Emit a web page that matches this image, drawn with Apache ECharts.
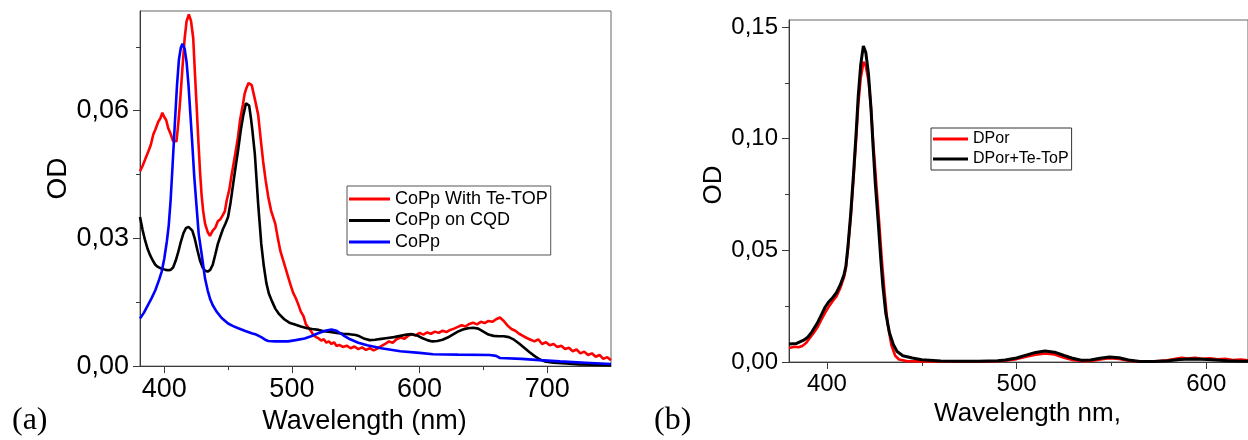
<!DOCTYPE html>
<html><head><meta charset="utf-8">
<script src="https://cdn.jsdelivr.net/npm/echarts@6/dist/echarts.min.js"></script>
<style>html,body{margin:0;padding:0;background:#fff}#c{width:1248px;height:440px}</style>
</head><body><div id="c"></div>
<script>
// ---------- Panel (a) data: [wavelength nm, OD] ----------
const copTeTop = [[381,0.0458],[383,0.047],[385,0.0485],[387.5,0.0504],[389.5,0.052],[391.4,0.0544],[393,0.0555],[395.3,0.0574],[397,0.0582],[398.5,0.0595],[400,0.0585],[401.5,0.0578],[403,0.056],[405,0.0545],[407,0.0528],[409.6,0.0528],[411,0.057],[412.5,0.0625],[414,0.069],[416,0.077],[417.5,0.081],[419.3,0.0826],[421,0.081],[422.7,0.077],[424,0.069],[425.3,0.0614],[426.7,0.053],[428,0.0458],[429.3,0.040],[430.5,0.0364],[432,0.0334],[434,0.0315],[435.8,0.0306],[438,0.0318],[440,0.0325],[442,0.034],[444,0.0345],[446,0.0355],[447.5,0.0364],[449,0.039],[451,0.0415],[452.5,0.0444],[454,0.047],[456,0.0505],[457.7,0.0537],[459.5,0.058],[461.6,0.0614],[463,0.064],[464.5,0.0654],[466,0.0665],[467,0.0668],[468.5,0.066],[469.7,0.0644],[471.5,0.062],[473.6,0.059],[475.5,0.0535],[477.5,0.048],[479.5,0.0435],[481.5,0.0397],[483.8,0.0364],[487,0.0334],[489,0.030],[491,0.027],[493,0.025],[495,0.023],[497,0.021],[499,0.019],[501,0.0172],[503,0.016],[505,0.0145],[507,0.0128],[509,0.0118],[511,0.0098],[513,0.009],[515,0.0082],[517,0.0072],[519,0.0068],[521,0.0065],[523,0.006],[525,0.0063],[527,0.0055],[529,0.0058],[531,0.0052],[533,0.0056],[535,0.0047],[537,0.005],[540,0.0045],[543,0.0048],[546,0.0042],[549,0.0046],[552,0.004],[555,0.0044],[558,0.0038],[561,0.0042],[564,0.0037],[567,0.0041],[570,0.0047],[573,0.0052],[576,0.0058],[579,0.0055],[582,0.0063],[585,0.0067],[588,0.0064],[591,0.0071],[594,0.0075],[597,0.0072],[600,0.0078],[603,0.0074],[606,0.0079],[609,0.0076],[612,0.0081],[615,0.0078],[618,0.0083],[621,0.008],[624,0.0085],[627,0.0088],[630,0.0092],[633,0.0096],[636,0.0093],[639,0.0099],[642,0.0102],[645,0.0098],[648,0.0104],[651,0.0101],[654,0.0106],[657,0.0104],[660,0.011],[663,0.0114],[666,0.0106],[669,0.0095],[672,0.0087],[675,0.0083],[678,0.0076],[681,0.0071],[684,0.0066],[687,0.0062],[690,0.0058],[693,0.0063],[696,0.0052],[699,0.0056],[702,0.0049],[705,0.0052],[708,0.0045],[711,0.0048],[714,0.004],[717,0.0043],[720,0.0035],[723,0.0039],[726,0.003],[729,0.0034],[732,0.0026],[735,0.003],[738,0.0022],[741,0.0026],[744,0.0017],[747,0.0021],[750,0.0014]];
const copOnCqd = [[381,0.035],[383,0.032],[385,0.0295],[387,0.0275],[389,0.026],[391,0.0248],[393,0.0238],[395,0.0233],[397,0.023],[399,0.0228],[401,0.0226],[403,0.0225],[405,0.0226],[407,0.0232],[409,0.0248],[411,0.0268],[413,0.0292],[415,0.0312],[417,0.0324],[419,0.0327],[420.5,0.0327],[422,0.0318],[424,0.0298],[426,0.0272],[428,0.0248],[430,0.0232],[432,0.0224],[434,0.0222],[436,0.0226],[438,0.0238],[440,0.0262],[442,0.0287],[444,0.0305],[446,0.0322],[448,0.0335],[450,0.035],[452,0.0385],[454,0.0428],[456,0.047],[458,0.051],[460,0.0555],[462,0.059],[464,0.0617],[465,0.0619],[466.5,0.0612],[468,0.058],[469,0.0555],[471,0.0497],[473.6,0.038],[476,0.0287],[478,0.0235],[480,0.0195],[482,0.017],[484,0.0155],[487,0.0135],[490,0.0122],[494,0.011],[498,0.0102],[503,0.0097],[507,0.0093],[512,0.0089],[516,0.0087],[521,0.0085],[525,0.0082],[530,0.008],[535,0.0078],[540,0.0076],[545,0.0075],[550,0.0073],[553,0.007],[557,0.0064],[561,0.0061],[565,0.0062],[570,0.0064],[575,0.0066],[580,0.0068],[585,0.0071],[590,0.0074],[594,0.0075],[598,0.0072],[602,0.0066],[606,0.0061],[610,0.0058],[614,0.0059],[618,0.0062],[622,0.0067],[626,0.0074],[630,0.0081],[634,0.0086],[638,0.0089],[642,0.009],[646,0.0088],[650,0.0081],[654,0.0074],[658,0.0071],[662,0.007],[666,0.007],[670,0.0068],[674,0.0062],[678,0.0053],[682,0.0043],[686,0.0033],[690,0.0024],[694,0.0016],[698,0.0011],[705,0.0008],[715,0.0006],[725,0.0004],[735,0.0003],[750,0.0002]];
const copPp = [[381,0.0112],[384,0.0125],[387,0.0142],[390,0.0159],[393,0.0178],[396,0.0203],[398,0.0222],[400,0.0252],[402,0.0292],[403.5,0.033],[405,0.039],[406.5,0.047],[408.4,0.0575],[410,0.066],[411.5,0.072],[413,0.0748],[414.3,0.0757],[416,0.0745],[417.5,0.0714],[419,0.066],[420.5,0.059],[422,0.052],[423.5,0.0445],[425.3,0.0375],[427,0.031],[429.2,0.0265],[432,0.0205],[434,0.0178],[435.8,0.0159],[438,0.0143],[441,0.0128],[445,0.0113],[450,0.01],[454,0.0094],[458,0.0089],[463,0.0083],[468.4,0.0077],[472,0.0074],[476,0.0068],[479,0.0062],[481.5,0.0059],[487,0.0058],[492,0.0058],[497,0.0058],[503,0.0061],[510,0.0065],[515,0.007],[520.6,0.0077],[526,0.0083],[531,0.0086],[535,0.0083],[540,0.0073],[545.6,0.0063],[552,0.0055],[559,0.0049],[570,0.0042],[585,0.0035],[600,0.0031],[610.6,0.0028],[630,0.0027],[655,0.0026],[660,0.0024],[663,0.0019],[680,0.0017],[694,0.0014],[710,0.0011],[730,0.0008],[750,0.0005]];

// ---------- Panel (b) data ----------
const dPor = [[380,0.0063],[383,0.0068],[385,0.0066],[387,0.0072],[389,0.0085],[391,0.0108],[393,0.013],[395,0.0155],[397,0.0188],[399,0.022],[401,0.0248],[403,0.0272],[405,0.0293],[407,0.033],[409,0.038],[410,0.042],[411,0.05],[412.5,0.064],[414,0.082],[415.5,0.101],[416.5,0.115],[417.8,0.127],[419.3,0.1344],[420.5,0.1325],[422,0.1255],[423.3,0.113],[424.5,0.097],[426,0.08],[427.5,0.063],[429,0.045],[430.5,0.03],[432,0.017],[434,0.0075],[436,0.0028],[438,0.0011],[442,0.0004],[450,0.0003],[460,0.0002],[480,0.0002],[490,0.0004],[495,0.0007],[500,0.0013],[505,0.0024],[510,0.0033],[515,0.0038],[520,0.0034],[525,0.0019],[530,0.0008],[536,0.0004],[541,0.0007],[545,0.0013],[549,0.0017],[554,0.0014],[559,0.0006],[565,0.0001],[572,0.0002],[578,0.0006],[583,0.0013],[587,0.0019],[590,0.0016],[594,0.0019],[598,0.0014],[602,0.0017],[606,0.0012],[610,0.0014],[614,0.0009],[618,0.0011],[622,0.0008]];
const dPorTeTop = [[380,0.0081],[384,0.0083],[388,0.0099],[390,0.0112],[392,0.0134],[395,0.0175],[397,0.021],[399,0.0245],[401,0.027],[403,0.0288],[405,0.031],[407,0.0345],[409,0.039],[410,0.043],[411,0.051],[412.5,0.066],[414,0.084],[415.5,0.104],[416.5,0.119],[417.8,0.133],[419.2,0.1415],[420.5,0.1385],[421.9,0.129],[423.2,0.114],[424.3,0.097],[425.5,0.08],[427,0.063],[428.3,0.047],[429.5,0.034],[431,0.022],[433,0.013],[435,0.0078],[437,0.0047],[440,0.0028],[445,0.0018],[450,0.001],[460,0.0004],[470,0.0003],[480,0.0003],[490,0.0006],[494,0.0009],[500,0.0018],[505,0.0031],[510,0.0043],[515,0.0049],[520,0.0044],[525,0.0029],[529,0.0018],[534,0.0008],[539,0.0009],[544,0.0017],[549,0.0022],[554,0.0019],[559,0.0009],[565,0.0002],[572,0.0002],[580,0.0006],[586,0.0011],[592,0.0013],[598,0.0012],[605,0.0009],[611,0.0006],[616,0.0004],[622,0.0003]];

// ---------- Ticks ----------
const xTicksA = [400, 500, 600, 700];
const xMinorA = [450, 550, 650];
const yTicksA = [0, 0.03, 0.06];
const yMinorA = [0.015, 0.045, 0.075];
const xTicksB = [400, 500, 600];
const xMinorB = [450, 550];
const yTicksB = [0, 0.05, 0.10, 0.15];
const yMinorB = [0.025, 0.075, 0.125];

const FONT = 'Liberation Sans, Arial, sans-serif';
const AXC = '#3a3a3a';
const comma = v => v.toFixed(2).replace('.', ',');

function mainX(gi, min, max, ticks, fs, name, nfs, gap, pad) {
  return {type:'value', gridIndex:gi, min, max, position:'bottom',
    axisLine:{show:true, onZero:false, lineStyle:{color:AXC, width:1}},
    axisTick:{show:true, inside:false, length:7, customValues:ticks, lineStyle:{color:AXC}},
    axisLabel:{show:true, customValues:ticks, margin:10, color:'#000', fontFamily:FONT, fontSize:fs},
    splitLine:{show:false},
    name, nameLocation:'middle', nameGap:gap,
    nameTextStyle:{color:'#000', fontFamily:FONT, fontSize:nfs, padding:pad}};
}
function minorX(gi, min, max, ticks) {
  return {type:'value', gridIndex:gi, min, max, position:'bottom',
    axisLine:{show:false, onZero:false}, axisLabel:{show:false}, splitLine:{show:false},
    axisTick:{show:true, inside:false, length:4, customValues:ticks, lineStyle:{color:AXC}}};
}
function mainY(gi, min, max, ticks, fs, nfs, gap, pad) {
  return {type:'value', gridIndex:gi, min, max, position:'left',
    axisLine:{show:true, onZero:false, lineStyle:{color:AXC, width:1}},
    axisTick:{show:true, inside:false, length:7, customValues:ticks, lineStyle:{color:AXC}},
    axisLabel:{show:true, customValues:ticks, margin:11, color:'#000', fontFamily:FONT, fontSize:fs, formatter:comma},
    splitLine:{show:false},
    name:'OD', nameLocation:'middle', nameGap:gap,
    nameTextStyle:{color:'#000', fontFamily:FONT, fontSize:nfs, padding:pad}};
}
function minorY(gi, min, max, ticks) {
  return {type:'value', gridIndex:gi, min, max, position:'left', offset:0,
    axisLine:{show:false, onZero:false}, axisLabel:{show:false}, splitLine:{show:false},
    axisTick:{show:true, inside:false, length:4, customValues:ticks, lineStyle:{color:AXC}}};
}
function line(name, data, color, w, xi, yi) {
  return {type:'line', name, data, xAxisIndex:xi, yAxisIndex:yi, showSymbol:false, symbol:'none',
    color, lineStyle:{color, width:w}, smooth:false, animation:false, z:3};
}

const chart = echarts.init(document.getElementById('c'), null, {renderer:'canvas'});
chart.setOption({
  animation:false,
  backgroundColor:'#fff',
  grid:[
    {left:140, top:11, right:637, bottom:72, show:true, borderColor:'#666', borderWidth:1, backgroundColor:'transparent'},
    {left:789, top:20, right:-9, bottom:78, show:true, borderColor:'#666', borderWidth:1, backgroundColor:'transparent'}
  ],
  xAxis:[
    mainX(0, 381, 750, xTicksA, 27, 'Wavelength (nm)', 27, 33, [0, 22, 0, 0]),
    minorX(0, 381, 750, xMinorA),
    mainX(1, 380, 622, xTicksB, 24, 'Wavelength nm,', 26, 36, [0, 0, 0, 18]),
    minorX(1, 380, 622, xMinorB)
  ],
  yAxis:[
    mainY(0, 0, 0.0834, yTicksA, 27, 28, 60, [0, 0, 0, 20]),
    minorY(0, 0, 0.0834, yMinorA),
    mainY(1, 0, 0.1531, yTicksB, 24, 26, 62, [0, 0, 0, 12]),
    minorY(1, 0, 0.1531, yMinorB)
  ],
  legend:[
    {data:['CoPp With Te-TOP','CoPp on CQD','CoPp'], orient:'vertical', left:347, top:186,
     icon:'rect', itemWidth:41, itemHeight:3, itemGap:3.5, padding:[4,3,4,2],
     borderColor:'#555', borderWidth:1, borderRadius:0, backgroundColor:'#fff',
     textStyle:{color:'#000', fontFamily:FONT, fontSize:18, lineHeight:18}, selectedMode:false},
    {data:['DPor','DPor+Te-ToP'], orient:'vertical', left:931, top:128,
     icon:'rect', itemWidth:35, itemHeight:3, itemGap:4, padding:[3,3,3,2],
     borderColor:'#333', borderWidth:1, borderRadius:0, backgroundColor:'#fff',
     textStyle:{color:'#000', fontFamily:FONT, fontSize:16, lineHeight:16}, selectedMode:false}
  ],
  graphic:[
    {type:'text', left:12, top:405, style:{text:'(a)', font:'32px "Liberation Serif", serif', fill:'#000'}},
    {type:'text', left:654, top:405, style:{text:'(b)', font:'32px "Liberation Serif", serif', fill:'#000'}}
  ],
  series:[
    line('CoPp With Te-TOP', copTeTop, '#ff0000', 2.6, 0, 0),
    line('CoPp on CQD', copOnCqd, '#000000', 2.6, 0, 0),
    line('CoPp', copPp, '#0000ff', 2.6, 0, 0),
    line('DPor', dPor, '#ff0000', 2.6, 2, 2),
    line('DPor+Te-ToP', dPorTeTop, '#000000', 3, 2, 2)
  ]
});
</script></body></html>
